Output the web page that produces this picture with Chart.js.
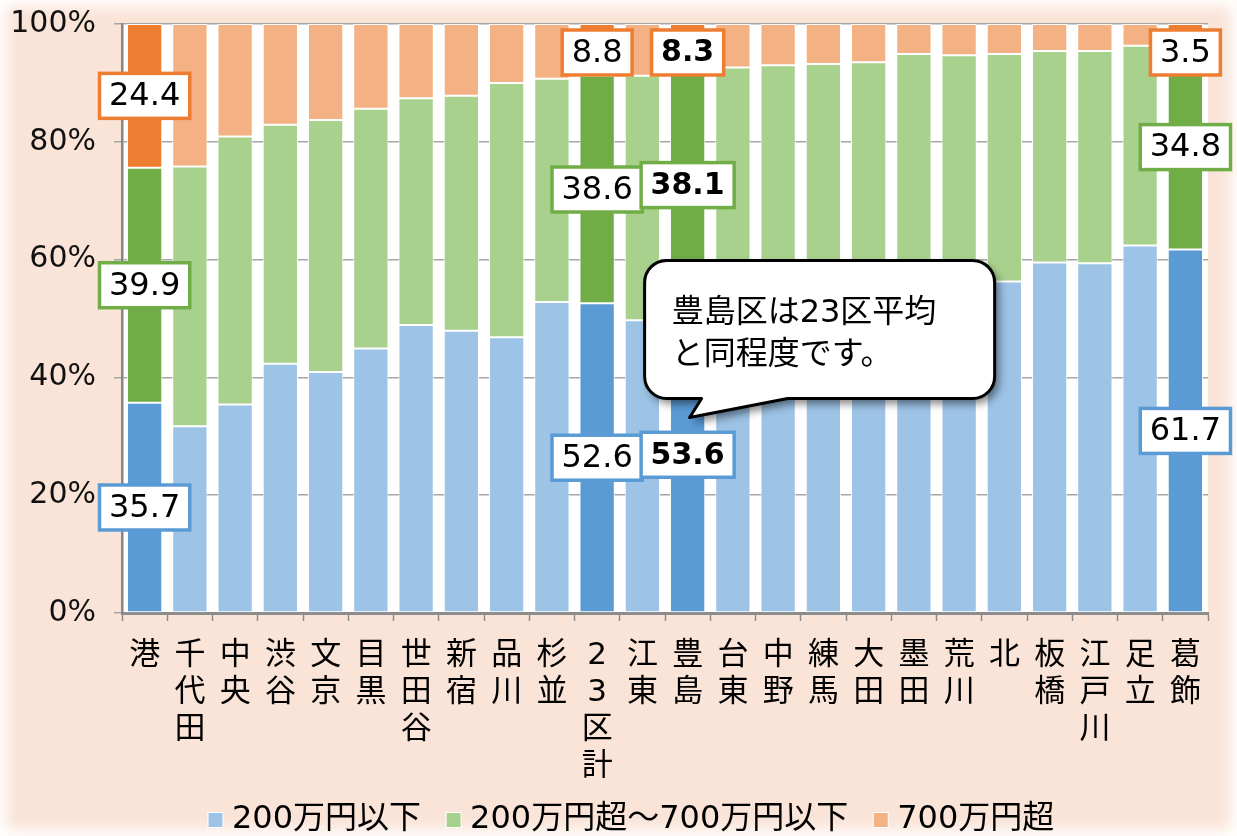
<!DOCTYPE html>
<html>
<head>
<meta charset="utf-8">
<script src="https://cdn.jsdelivr.net/npm/chart.js@4.4.1/dist/chart.umd.min.js"></script>
<style>
  html, body { margin: 0; padding: 0; background: #fff; }
  #wrap {
    position: relative; width: 1237px; height: 836px;
    background: #FAE4D8;
    box-shadow: inset 0 0 14px 6px #fff;
    overflow: hidden;
  }
  canvas { display: block; }
</style>
</head>
<body>
<div id="wrap"><canvas id="c" width="1237" height="836"></canvas></div>
<script>
// 区別・所得階層の構成比（%）
const wards = ['港','千代田','中央','渋谷','文京','目黒','世田谷','新宿','品川','杉並','23区計','江東','豊島','台東','中野','練馬','大田','墨田','荒川','北','板橋','江戸川','足立','葛飾'];
const under200 = [35.7, 31.7, 35.4, 42.3, 40.9, 44.9, 48.9, 47.9, 46.8, 52.8, 52.6, 49.7, 53.6, 53.0, 51.5, 52.5, 55.0, 57.5, 58.0, 56.3, 59.5, 59.4, 62.4, 61.7];
const from200to700 = [39.9, 44.1, 45.5, 40.6, 42.8, 40.7, 38.5, 39.9, 43.2, 37.9, 38.6, 41.5, 38.1, 39.6, 41.5, 40.7, 38.5, 37.4, 36.7, 38.6, 35.9, 36.0, 33.9, 34.8];
const over700 = [24.4, 24.2, 19.1, 17.1, 16.3, 14.4, 12.6, 12.2, 10.0, 9.3, 8.8, 8.8, 8.3, 7.4, 7.0, 6.8, 6.5, 5.1, 5.3, 5.1, 4.6, 4.6, 3.7, 3.5];
const yTicks = [0, 20, 40, 60, 80, 100];
const seriesNames = ['200万円以下', '200万円超～700万円以下', '700万円超'];
const focusWards = ['港', '23区計', '豊島', '葛飾'];
const boldWard = '豊島';
const calloutLines = ['豊島区は23区平均', 'と同程度です。'];

const FONT = "'DejaVu Sans', 'Noto Sans CJK JP', sans-serif";
const lightColors = ['#9DC3E6', '#A9D18E', '#F4B183'];
const darkColors  = ['#5B9BD5', '#70AD47', '#ED7D31'];

const focusIdx = focusWards.map(w => wards.indexOf(w));
const boldIdx = wards.indexOf(boldWard);

function colorsFor(s) {
  return wards.map((w, i) => focusIdx.includes(i) ? darkColors[s] : lightColors[s]);
}

const plotBackground = {
  id: 'plotBackground',
  beforeDraw(chart) {
    const { ctx, chartArea: a } = chart;
    ctx.save();
    ctx.fillStyle = '#ffffff';
    ctx.fillRect(a.left, a.top, a.right - a.left, a.bottom - a.top);
    ctx.restore();
  }
};

const boxLabels = {
  id: 'boxLabels',
  afterDatasetsDraw(chart) {
    const ctx = chart.ctx;
    const top = chart.chartArea.top;
    ctx.save();
    chart.data.datasets.forEach((ds, di) => {
      const meta = chart.getDatasetMeta(di);
      focusIdx.forEach(i => {
        const el = meta.data[i];
        const txt = ds.data[i].toFixed(1);
        const bold = i === boldIdx;
        ctx.font = (bold ? 'bold 30px ' : '32px ') + FONT;
        const w = ctx.measureText(txt).width + 19;
        const h = 45;
        const cx = el.x;
        let cy = (el.y + el.base) / 2;
        cy = Math.max(cy, top + h / 2 + 6);
        ctx.fillStyle = '#ffffff';
        ctx.fillRect(cx - w / 2, cy - h / 2, w, h);
        ctx.lineWidth = 3.5;
        ctx.strokeStyle = darkColors[di];
        ctx.strokeRect(cx - w / 2, cy - h / 2, w, h);
        ctx.fillStyle = '#000';
        ctx.textAlign = 'center';
        ctx.textBaseline = 'middle';
        ctx.fillText(txt, cx, cy + 1);
      });
    });
    ctx.restore();
  }
};

const callout = {
  id: 'callout',
  afterDraw(chart) {
    const ctx = chart.ctx;
    const bar = chart.getDatasetMeta(0).data[boldIdx];
    const tipX = bar.x + 2;
    const tipY = chart.scales.y.getPixelForValue(33.2);
    const L = tipX - 45, R = tipX + 305, T = tipY - 157, B = tipY - 19, r = 22;
    const tailL = tipX + 12, tailR = tipX + 98;
    const path = () => {
      ctx.beginPath();
      ctx.moveTo(L + r, T);
      ctx.lineTo(R - r, T);
      ctx.arcTo(R, T, R, T + r, r);
      ctx.lineTo(R, B - r);
      ctx.arcTo(R, B, R - r, B, r);
      ctx.lineTo(tailR, B);
      ctx.lineTo(tipX, tipY);
      ctx.lineTo(tailL, B);
      ctx.lineTo(L + r, B);
      ctx.arcTo(L, B, L, B - r, r);
      ctx.lineTo(L, T + r);
      ctx.arcTo(L, T, L + r, T, r);
      ctx.closePath();
    };
    ctx.save();
    path();
    ctx.shadowColor = 'rgba(0,0,0,0.5)';
    ctx.shadowBlur = 8;
    ctx.shadowOffsetX = 4;
    ctx.shadowOffsetY = 5;
    ctx.fillStyle = '#ffffff';
    ctx.fill();
    ctx.shadowColor = 'transparent';
    ctx.lineWidth = 3;
    ctx.lineJoin = 'round';
    ctx.strokeStyle = '#000';
    ctx.stroke();
    ctx.font = '32px ' + FONT;
    ctx.fillStyle = '#000';
    ctx.textAlign = 'left';
    ctx.textBaseline = 'alphabetic';
    calloutLines.forEach((line, k) => ctx.fillText(line, L + 27, T + 62 + k * 42));
    ctx.restore();
  }
};

const bottomLegend = {
  id: 'bottomLegend',
  afterDraw(chart) {
    const ctx = chart.ctx;
    ctx.save();
    ctx.font = '32px ' + FONT;
    const box = 15, gapText = 9, gapItem = 25;
    let x = 208;
    const cy = 820;
    seriesNames.forEach((n, i) => {
      ctx.fillStyle = lightColors[i];
      ctx.fillRect(x, cy - box / 2, box, box);
      ctx.strokeStyle = '#ffffff';
      ctx.lineWidth = 1;
      ctx.strokeRect(x, cy - box / 2, box, box);
      x += box + gapText;
      ctx.fillStyle = '#000';
      ctx.textAlign = 'left';
      ctx.textBaseline = 'middle';
      ctx.fillText(n, x, cy);
      x += ctx.measureText(n).width + gapItem;
    });
    ctx.restore();
  }
};

function build() {
  const datasets = [under200, from200to700, over700].map((vals, s) => ({
    label: seriesNames[s],
    data: vals,
    backgroundColor: colorsFor(s),
    borderColor: 'rgba(255,255,255,0.9)',
    borderWidth: 1,
    borderSkipped: false,
    barPercentage: 0.78,
    categoryPercentage: 1.0
  }));

  new Chart(document.getElementById('c'), {
    type: 'bar',
    data: { labels: wards.map(w => Array.from(w)), datasets },
    options: {
      responsive: false,
      animation: false,
      devicePixelRatio: 1,
      layout: { padding: { left: 0, right: 29, top: 24, bottom: 0 } },
      plugins: { legend: { display: false }, tooltip: { enabled: false } },
      scales: {
        x: {
          stacked: true,
          afterFit(scale) {
            scale.height = 223;
            scale.paddingLeft = 0; scale.paddingRight = 0;
          },
          grid: { drawOnChartArea: false, drawTicks: true, tickLength: 8, tickColor: '#8c8c8c', tickWidth: 1.5 },
          border: { color: '#8c8c8c', width: 3 },
          ticks: {
            color: '#000', padding: 16, maxRotation: 0, autoSkip: false,
            font: { family: FONT, size: 31, lineHeight: 1.2 }
          }
        },
        y: {
          stacked: true,
          min: 0, max: 100,
          afterFit(scale) {
            scale.width = 122;
            scale.paddingTop = 0; scale.paddingBottom = 0;
          },
          afterBuildTicks(scale) { scale.ticks = yTicks.map(v => ({ value: v })); },
          grid: { color: '#a6a6a6', lineWidth: 1.5, tickLength: 8, tickColor: '#a6a6a6' },
          border: { color: '#868686', width: 2.5 },
          ticks: {
            color: '#111', padding: 18,
            font: { family: FONT, size: 30 },
            callback: v => v + '%'
          }
        }
      }
    },
    plugins: [plotBackground, boxLabels, callout, bottomLegend]
  });
}

const fontLoads = [
  document.fonts.load("32px 'DejaVu Sans'", '0123456789.%'),
  document.fonts.load("bold 30px 'DejaVu Sans'", '0123456789.'),
  document.fonts.load("28px 'Noto Sans CJK JP'", '豊島区は平均と同程度です。万円以下超～')
];
Promise.all(fontLoads).then(build, build);
</script>
</body>
</html>
